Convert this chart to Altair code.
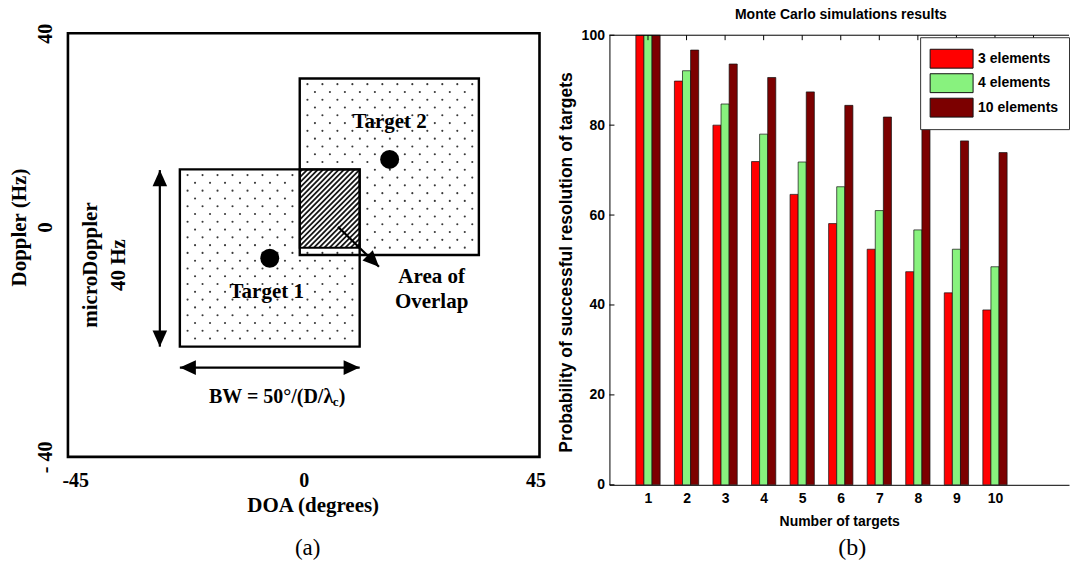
import altair as alt
import pandas as pd

SERIF = "Liberation Serif"
SANS = "Liberation Sans"

# ---------------- (a) DOA / Doppler resolution cells ----------------
doa_ticks = [-45, 0, 45]
doppler_ticks = [-40, 40]

cell_name = ["Target 1", "Target 2"]
cell_x0 = [-23.64, -0.76]
cell_x1 = [10.68, 33.43]
cell_y0 = [-19.19, -1.89]
cell_y1 = [14.28, 31.45]
overlap_x = [-0.76, 10.68]
overlap_y = [-0.51, 14.28]
target_x = [-6.48, 16.40]
target_y = [-2.51, 16.17]
name_x = [-7.06, 16.40]
name_y = [-8.81, 23.26]

# arrow shafts: microDoppler span, beamwidth span, pointer to the overlap
shaft_x0 = [-27.46, -23.64, 6.54]
shaft_y0 = [14.15, -23.15, 3.45]
shaft_x1 = [-27.46, 10.68, 14.36]
shaft_y1 = [-19.19, -23.15, -4.09]
# arrow heads (tip position, direction clockwise from up)
head_x = [-27.46, -27.46, -23.64, 10.68, 14.36]
head_y = [14.15, -19.19, -23.15, -23.15, -4.09]
head_angle = [0, 180, 270, 90, 135]

# ---------------- (b) Monte Carlo results ----------------
n_targets = list(range(1, 11))
p_3 = [100, 89.8, 80.0, 71.9, 64.6, 58.1, 52.4, 47.4, 42.7, 38.9]
p_4 = [100, 92.1, 84.7, 78.0, 71.8, 66.3, 61.0, 56.7, 52.4, 48.5]
p_10 = [100, 96.7, 93.6, 90.6, 87.4, 84.4, 81.8, 79.2, 76.5, 73.9]
series_names = ["3 elements", "4 elements", "10 elements"]
series_colors = ["#ff0000", "#88f27e", "#7c0000"]
y_ticks_b = [0, 20, 40, 60, 80, 100]
XMAX_B = 11.92
BAR_W = 0.21

# ======================= panel (a) =======================
XA = alt.Scale(domain=[-45, 45], range=[68, 540], nice=False, zero=False)
YA = alt.Scale(domain=[-40, 40], range=[457, 33], nice=False, zero=False)

x_axis_a = alt.Axis(values=doa_ticks, title="DOA (degrees)", domain=False, ticks=False,
                    tickSize=0, grid=False, labelPadding=14, labelFlush=True,
                    labelFlushOffset=6,
                    labelExpr="datum.value < 0 ? '-' + abs(datum.value) : datum.label",
                    labelFont=SERIF, labelFontSize=20,
                    labelFontWeight="bold", labelColor="black", titleFont=SERIF,
                    titleFontSize=21, titleFontWeight="bold", titleColor="black",
                    titleX=313, titleY=49, titleBaseline="middle", titleAlign="center")
y_axis_a = alt.Axis(values=doppler_ticks, offset=-68, domain=False, ticks=False, tickSize=0,
                    grid=False,
                    labelExpr="datum.value < 0 ? '- ' + abs(datum.value) : datum.label",
                    labelAngle=270, labelAlign="center", labelBaseline="middle",
                    labelPadding=22, labelFont=SERIF, labelFontSize=20,
                    labelFontWeight="bold", labelColor="black",
                    title=["Doppler (Hz)", "0"], titleAngle=270, titleX=-48, titleY=227,
                    titleAlign="center", titleBaseline="middle", titleLineHeight=26,
                    titleFont=SERIF, titleFontSize=21, titleFontWeight="bold",
                    titleColor="black")


def xa(f):
    return alt.X(f, type="quantitative", scale=XA, axis=x_axis_a)


def ya(f):
    return alt.Y(f, type="quantitative", scale=YA, axis=y_axis_a)


def stagger(x0, x1, y0, y1, keep):
    """Staggered dot texture filling a cell."""
    xs, ys = [], []
    y, row = y1 - 1.07, 0
    while y > y0 + 0.45:
        x = x0 + 1.47 + (row % 2) * 1.43
        while x < x1 - 0.45:
            if keep(x, y):
                xs.append(x)
                ys.append(y)
            x += 2.86
        y -= 1.47
        row += 1
    return xs, ys


d1x, d1y = stagger(cell_x0[0], cell_x1[0], cell_y0[0], cell_y1[0],
                   lambda x, y: not (x > overlap_x[0] - 0.4 and y > overlap_y[0] - 0.4))
d2x, d2y = stagger(cell_x0[1], cell_x1[1], cell_y0[1], cell_y1[1],
                   lambda x, y: not (x < cell_x1[0] + 0.4 and y < cell_y1[0] + 0.4))
dots_df = pd.DataFrame({"x": d1x + d2x, "y": d1y + d2y})


def hatch(x0, x1, y0, y1, gap):
    """Diagonal '/' hatch lines clipped to a rectangle."""
    rows = []
    c = x0 - y1 + gap / 2
    while c < x1 - y0:
        lo, hi = max(x0, c + y0), min(x1, c + y1)
        if hi > lo:
            rows.append((lo, lo - c, hi, hi - c))
        c += gap
    return pd.DataFrame(rows, columns=["x0", "y0", "x1", "y1"])


hatch_df = hatch(overlap_x[0], overlap_x[1], overlap_y[0], overlap_y[1], 1.0)

cells_df = pd.DataFrame({"name": cell_name, "x0": cell_x0, "x1": cell_x1,
                         "y0": cell_y0, "y1": cell_y1})
overlap_df = pd.DataFrame({"x0": [overlap_x[0]], "x1": [overlap_x[1]],
                           "y0": [overlap_y[0]], "y1": [overlap_y[1]]})
frame_df = pd.DataFrame({"x0": [doa_ticks[0]], "x1": [doa_ticks[-1]],
                         "y0": [doppler_ticks[0]], "y1": [doppler_ticks[-1]]})
targets_df = pd.DataFrame({"x": target_x, "y": target_y})
names_df = pd.DataFrame({"x": name_x, "y": name_y, "t": cell_name})
shafts_df = pd.DataFrame({"x0": shaft_x0, "y0": shaft_y0, "x1": shaft_x1, "y1": shaft_y1})
heads_df = pd.DataFrame({"x": head_x, "y": head_y, "a": head_angle})

dots = alt.Chart(dots_df).mark_circle(size=4.5, color="#383838", opacity=1).encode(
    x=xa("x"), y=ya("y"))
hatch_lines = alt.Chart(hatch_df).mark_rule(color="#151515", strokeWidth=1.8).encode(
    x=xa("x0"), y=ya("y0"), x2="x1", y2="y1")
cells = alt.Chart(cells_df).mark_rect(fillOpacity=0, stroke="black", strokeWidth=2.4).encode(
    x=xa("x0"), x2="x1", y=ya("y0"), y2="y1")
overlap_box = alt.Chart(overlap_df).mark_rect(fillOpacity=0, stroke="black",
                                              strokeWidth=2.0).encode(
    x=xa("x0"), x2="x1", y=ya("y0"), y2="y1")
frame = alt.Chart(frame_df).mark_rect(fillOpacity=0, stroke="black", strokeWidth=2.6).encode(
    x=xa("x0"), x2="x1", y=ya("y0"), y2="y1")
targets = alt.Chart(targets_df).mark_circle(size=360, color="black", opacity=1).encode(
    x=xa("x"), y=ya("y"))
shafts = alt.Chart(shafts_df).mark_rule(color="black", strokeWidth=2.2).encode(
    x=xa("x0"), y=ya("y0"), x2="x1", y2="y1")
heads = alt.Chart(heads_df).mark_point(
    shape="M0,0L-0.5,1.1L0.5,1.1Z", size=850, filled=True, color="black",
    opacity=1, strokeWidth=0).encode(
    x=xa("x"), y=ya("y"), angle=alt.Angle("a:Q", scale=None))

txt = dict(font=SERIF, fontWeight="bold", color="black", baseline="middle")
names = alt.Chart(names_df).mark_text(fontSize=21, **txt).encode(
    x=xa("x"), y=ya("y"), text="t:N")
overlap_label = alt.Chart(pd.DataFrame({"x": [24.41], "y": [-6.13]})).mark_text(
    text=["Area of", "Overlap"], lineHeight=25, fontSize=21, **txt).encode(
    x=xa("x"), y=ya("y"))
micro_label = alt.Chart(pd.DataFrame({"x": [-40.61], "y": [-3.77]})).mark_text(
    text=["microDoppler", "40 Hz"], angle=270, lineHeight=28, fontSize=21, **txt).encode(
    x=xa("x"), y=ya("y"))
bw_main = alt.Chart(pd.DataFrame({"x": [5.63], "y": [-28.68]})).mark_text(
    text="BW = 50°/(D/λ", align="right", fontSize=20, **txt).encode(x=xa("x"), y=ya("y"))
bw_sub = alt.Chart(pd.DataFrame({"x": [6.10], "y": [-29.62]})).mark_text(
    text="c", align="center", fontSize=13, **txt).encode(x=xa("x"), y=ya("y"))
bw_close = alt.Chart(pd.DataFrame({"x": [6.67], "y": [-28.68]})).mark_text(
    text=")", align="left", fontSize=20, **txt).encode(x=xa("x"), y=ya("y"))
caption_a = alt.Chart(pd.DataFrame({"c": ["(a)"]})).mark_text(
    font=SERIF, fontSize=23, color="black", baseline="middle").encode(
    text="c:N", x=alt.value(308), y=alt.value(548))

panel_a = alt.layer(
    frame, dots, hatch_lines, cells, overlap_box, targets, shafts, heads,
    names, overlap_label, micro_label, bw_main, bw_sub, bw_close, caption_a
).properties(width=540, height=457)

# ======================= panel (b) =======================
XB = alt.Scale(domain=[0, XMAX_B], nice=False, zero=False)
YB = alt.Scale(domain=[0, 100], range=[485, 35], nice=False)

bars_df = pd.DataFrame({
    "n": n_targets * 3,
    "series": [s for s in series_names for _ in n_targets],
    "k": [k for k in range(3) for _ in n_targets],
    "p": p_3 + p_4 + p_10,
})

x_axis_b = alt.Axis(values=n_targets, format="d", title="Number of targets", ticks=False,
                    tickSize=0, grid=False, domainColor="black", domainWidth=1,
                    labelPadding=7, titlePadding=9, labelFont=SANS, labelFontSize=14,
                    labelFontWeight="bold", labelColor="black", titleFont=SANS,
                    titleFontSize=14, titleFontWeight="bold", titleColor="black")
y_axis_b = alt.Axis(values=y_ticks_b, title="Probability of successful resolution of targets",
                    ticks=False, tickSize=0, grid=False, domainColor="black", domainWidth=1,
                    labelPadding=5, labelFont=SANS, labelFontSize=14,
                    labelFontWeight="bold", labelColor="black", titleFont=SANS,
                    titleFontSize=17.5, titleFontWeight="bold", titleColor="black",
                    titleAngle=270, titleX=-43, titleY=262, titleAlign="center",
                    titleBaseline="middle")
legend_b = alt.Legend(title=None, orient="none", legendX=921, legendY=37,
                      direction="vertical", symbolType="M-2,-0.88H2V0.88H-2Z",
                      symbolSize=462, symbolOffset=10, symbolStrokeColor="#111",
                      symbolStrokeWidth=1, labelOffset=15, labelFont=SANS,
                      labelFontSize=14, labelFontWeight="bold", labelColor="black",
                      fillColor="white", strokeColor="#333", padding=10, rowPadding=1.5)


def xb(f):
    return alt.X(f, type="quantitative", scale=XB, axis=x_axis_b)


def yb(f):
    return alt.Y(f, type="quantitative", scale=YB, axis=y_axis_b)


bars = alt.Chart(bars_df).transform_calculate(
    x0=f"datum.n - 1.5 * {BAR_W} + datum.k * {BAR_W}",
    x1=f"datum.n - 0.5 * {BAR_W} + datum.k * {BAR_W}",
).mark_rect(stroke="#111", strokeWidth=0.7).encode(
    x=xb("x0"), x2="x1:Q", y=yb("p"), y2=alt.datum(0),
    color=alt.Color("series:N", scale=alt.Scale(domain=series_names, range=series_colors),
                    legend=legend_b),
)

top_line = alt.Chart(pd.DataFrame({"x0": [0], "x1": [XMAX_B], "y": [100]})).mark_rule(
    color="black", strokeWidth=1).encode(x=xb("x0"), x2="x1:Q", y=yb("y"))
top_ticks = alt.Chart(pd.DataFrame({"n": n_targets + [11], "y0": 100, "y1": 98.9})).mark_rule(
    color="black", strokeWidth=1).encode(x=xb("n"), y=yb("y0"), y2="y1:Q")
left_ticks = alt.Chart(pd.DataFrame({"y": y_ticks_b, "x0": 0, "x1": 0.13})).mark_rule(
    color="black", strokeWidth=1).encode(x=xb("x0"), x2="x1:Q", y=yb("y"))
title_b = alt.Chart(pd.DataFrame({"t": ["Monte Carlo simulations results"]})).mark_text(
    font=SANS, fontSize=14, fontWeight="bold", color="black", baseline="middle").encode(
    text="t:N", x=alt.value(231.7), y=alt.value(15))
caption_b = alt.Chart(pd.DataFrame({"c": ["(b)"]})).mark_text(
    font=SERIF, fontSize=24, color="black", baseline="middle").encode(
    text="c:N", x=alt.value(243), y=alt.value(548))

panel_b = alt.layer(bars, top_line, top_ticks, left_ticks, title_b, caption_b).properties(
    width=460, height=485)

chart = alt.hconcat(panel_a, panel_b, spacing=70, bounds="flush").properties(
    padding=0, background="white").configure_view(stroke=None)

chart.save("out.html", embed_options={"renderer": "svg", "actions": False})
